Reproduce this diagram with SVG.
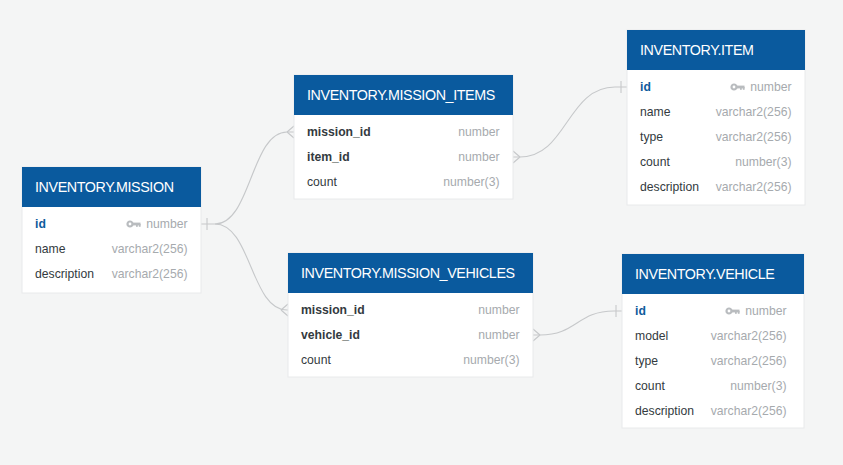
<svg xmlns="http://www.w3.org/2000/svg" width="843" height="465" viewBox="0 0 843 465">
<style>
.bg{fill:#f4f5f5}
.body{fill:#ffffff;stroke:#e8eaeb;stroke-width:1}
.hdr{fill:#0a5a9e}
.title{font-family:"Liberation Sans",Arial,sans-serif;font-size:14.3px;fill:#ffffff;letter-spacing:-0.4px}
.fn{font-family:"Liberation Sans",Arial,sans-serif;font-size:12.2px;fill:#333a40}
.fb{font-family:"Liberation Sans",Arial,sans-serif;font-size:12.2px;fill:#333a40;font-weight:bold}
.pk{font-family:"Liberation Sans",Arial,sans-serif;font-size:12.2px;fill:#0f5a9c;font-weight:bold}
.ty{font-family:"Liberation Sans",Arial,sans-serif;font-size:12.2px;fill:#a6aaae;text-anchor:end}
.conn path{fill:none;stroke:#c6c8ca;stroke-width:1.1}
</style>
<defs>
<g id="key" fill="#b9bcbf">
<circle cx="3" cy="0" r="2.5" fill="none" stroke="#b9bcbf" stroke-width="2.2"/>
<rect x="5" y="-1.4" width="8.5" height="2.8"/>
<rect x="9" y="0" width="1.8" height="2.8"/>
<rect x="11.8" y="0" width="1.8" height="2.8"/>
</g>
</defs>
<rect class="bg" x="0" y="0" width="843" height="465"/>

<g id="connectors" class="conn">
<path d="M201 224 H215 C251 224 251 132 287 132 H294"/>
<path d="M207 218 V230"/>
<path d="M287 132 L294 126 M287 132 L294 138"/>
<path d="M215 224 C251 224 251 310 287 310 H288"/>
<path d="M281 310 L288 304 M281 310 L288 316"/>
<path d="M513 157 H520 C567 157 567 87 615 87 H627"/>
<path d="M520 157 L513 151 M520 157 L513 163"/>
<path d="M621 81 V93"/>
<path d="M533 335 H540 C577 335 577 311 614 311 H622"/>
<path d="M540 335 L533 329 M540 335 L533 341"/>
<path d="M616 305 V317"/>
</g>

<g id="mission">
<rect class="body" x="22" y="167" width="179" height="126"/>
<rect class="hdr" x="22" y="167" width="179" height="40"/>
<text class="title" x="35" y="192">INVENTORY.MISSION</text>
<text class="pk" x="35" y="228">id</text>
<use href="#key" x="127" y="224"/>
<text class="ty" x="187.5" y="228">number</text>
<text class="fn" x="35" y="253">name</text>
<text class="ty" x="187.5" y="253">varchar2(256)</text>
<text class="fn" x="35" y="278">description</text>
<text class="ty" x="187.5" y="278">varchar2(256)</text>
</g>

<g id="mission_items">
<rect class="body" x="294" y="75" width="219" height="124"/>
<rect class="hdr" x="294" y="75" width="219" height="40"/>
<text class="title" x="307" y="100">INVENTORY.MISSION_ITEMS</text>
<text class="fb" x="307" y="136">mission_id</text>
<text class="ty" x="499.5" y="136">number</text>
<text class="fb" x="307" y="161">item_id</text>
<text class="ty" x="499.5" y="161">number</text>
<text class="fn" x="307" y="186">count</text>
<text class="ty" x="499.5" y="186">number(3)</text>
</g>

<g id="item">
<rect class="body" x="627" y="30" width="178" height="175"/>
<rect class="hdr" x="627" y="30" width="178" height="40"/>
<text class="title" x="640" y="55">INVENTORY.ITEM</text>
<text class="pk" x="640" y="91">id</text>
<use href="#key" x="731" y="87"/>
<text class="ty" x="791.5" y="91">number</text>
<text class="fn" x="640" y="116">name</text>
<text class="ty" x="791.5" y="116">varchar2(256)</text>
<text class="fn" x="640" y="141">type</text>
<text class="ty" x="791.5" y="141">varchar2(256)</text>
<text class="fn" x="640" y="166">count</text>
<text class="ty" x="791.5" y="166">number(3)</text>
<text class="fn" x="640" y="191">description</text>
<text class="ty" x="791.5" y="191">varchar2(256)</text>
</g>

<g id="mission_vehicles">
<rect class="body" x="288" y="253" width="245" height="124"/>
<rect class="hdr" x="288" y="253" width="245" height="40"/>
<text class="title" x="301" y="278">INVENTORY.MISSION_VEHICLES</text>
<text class="fb" x="301" y="314">mission_id</text>
<text class="ty" x="519.5" y="314">number</text>
<text class="fb" x="301" y="339">vehicle_id</text>
<text class="ty" x="519.5" y="339">number</text>
<text class="fn" x="301" y="364">count</text>
<text class="ty" x="519.5" y="364">number(3)</text>
</g>

<g id="vehicle">
<rect class="body" x="622" y="254" width="182" height="174"/>
<rect class="hdr" x="622" y="254" width="182" height="40"/>
<text class="title" x="635" y="279">INVENTORY.VEHICLE</text>
<text class="pk" x="635" y="315">id</text>
<use href="#key" x="726" y="311"/>
<text class="ty" x="786.5" y="315">number</text>
<text class="fn" x="635" y="340">model</text>
<text class="ty" x="786.5" y="340">varchar2(256)</text>
<text class="fn" x="635" y="365">type</text>
<text class="ty" x="786.5" y="365">varchar2(256)</text>
<text class="fn" x="635" y="390">count</text>
<text class="ty" x="786.5" y="390">number(3)</text>
<text class="fn" x="635" y="415">description</text>
<text class="ty" x="786.5" y="415">varchar2(256)</text>
</g>
</svg>
